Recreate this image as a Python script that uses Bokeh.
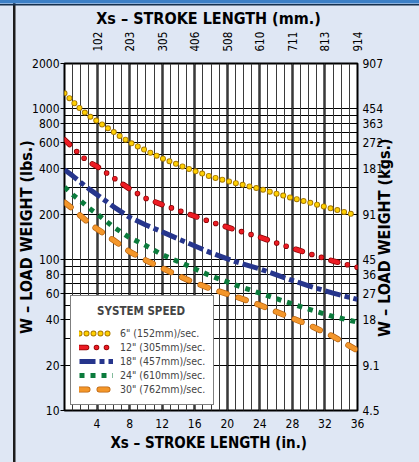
import math
from bokeh.plotting import figure
from bokeh.models import (LinearAxis, LogAxis, FixedTicker, Grid, Legend,
                          LegendItem, Range1d, Label, GlobalInlineStyleSheet)
from bokeh.embed import file_html
from bokeh.resources import INLINE

# ---------------- data ----------------
stroke_in = [0, 1, 2, 3, 4, 6, 8, 10, 12, 15, 18, 21, 24, 27, 30, 33, 36]
w_6in = [1270, 1120, 995, 900, 830, 705, 600, 530, 470, 405, 355, 322, 295, 265, 240, 217, 196]
w_12in = [625, 555, 490, 445, 415, 350, 295, 255, 232, 203, 178, 158, 141, 124, 110, 98, 89]
w_18in = [395, 360, 325, 295, 270, 225, 191, 170, 153, 130, 111, 97, 87, 76, 67, 60, 54.5]
w_24in = [303, 270, 245, 220, 201, 165, 140, 124, 108, 92, 78, 68, 60, 53, 47, 42, 38.5]
w_30in = [240, 218, 195, 175, 160, 135, 113, 99, 88, 74, 64, 57, 50, 43, 37, 31, 25]

series_labels = ['6" (152mm)/sec.', '12" (305mm)/sec.', '18" (457mm)/sec.',
                 '24" (610mm)/sec.', '30" (762mm)/sec.']
legend_title = "SYSTEM SPEED"

in_ticks = [4, 8, 12, 16, 20, 24, 28, 32, 36]
mm_labels = ["102", "203", "305", "406", "508", "610", "711", "813", "914"]
lbs_ticks = [10, 20, 40, 60, 80, 100, 200, 400, 600, 800, 1000, 2000]
kg_labels = ["4.5", "9.1", "18", "27", "36", "45", "91", "181", "272", "363", "454", "907"]
minor_y = [m * d for d in (10, 100, 1000) for m in range(1, 10)] + [2000]
minor_x = list(range(0, 37))

FONT = "DejaVu Sans Condensed, Liberation Sans Narrow, Roboto, sans-serif"
BG = "#dfe7f4"
PAGE_CSS = """
body {
  background:
    linear-gradient(#3d80c6, #3d80c6) 0 0 / 100% 3.5px no-repeat,
    linear-gradient(#16304d, #16304d) 0 3.5px / 100% 1.5px no-repeat,
    linear-gradient(#1c1c1c, #1c1c1c) 12.5px 0 / 2.5px 100% no-repeat,
    BGCOLOR;
}
""".replace("BGCOLOR", BG)

p = figure(width=419, height=462, x_range=Range1d(0, 36), y_range=Range1d(10, 2000),
           y_axis_type="log", output_backend="svg", toolbar_location=None,
           min_border_left=64, min_border_right=62, min_border_top=63, min_border_bottom=52)
p.stylesheets = [GlobalInlineStyleSheet(css=PAGE_CSS)]
p.background_fill_color = "white"
p.border_fill_color = BG
p.border_fill_alpha = 0
p.outline_line_color = "black"
p.outline_line_width = 2

# grids
p.xgrid.ticker = FixedTicker(ticks=in_ticks)
p.xgrid.grid_line_color = "black"
p.xgrid.grid_line_width = 2.2
p.ygrid.ticker = FixedTicker(ticks=minor_y)
p.ygrid.grid_line_color = "black"
p.ygrid.grid_line_width = 1.2
minor_grid = Grid(dimension=0, ticker=FixedTicker(ticks=minor_x),
                  grid_line_color="#3a3a3a", grid_line_width=1)
p.add_layout(minor_grid)


def style_axis(ax, out=0):
    ax.axis_line_color = None
    ax.major_tick_out = out
    ax.major_tick_in = 0
    ax.minor_tick_out = 0
    ax.minor_tick_in = 0
    ax.major_tick_line_color = "black"
    ax.major_label_text_font = FONT
    ax.major_label_text_font_size = "12px"
    ax.major_label_text_color = "black"
    ax.axis_label_text_font = FONT
    ax.axis_label_text_font_size = "16px"
    ax.axis_label_text_font_style = "bold"
    ax.axis_label_text_color = "black"


# bottom axis
bx = p.xaxis[0]
bx.ticker = FixedTicker(ticks=in_ticks)
bx.axis_label = "Xs – STROKE  LENGTH (in.)"
style_axis(bx)
bx.axis_label_text_font_size = "15px"
bx.major_label_standoff = 8
bx.axis_label_standoff = 3

# left axis
ly = p.yaxis[0]
ly.ticker = FixedTicker(ticks=lbs_ticks)
ly.major_label_overrides = {t: str(t) for t in lbs_ticks}
ly.axis_label = "W – LOAD WEIGHT (lbs.)"
style_axis(ly, out=4)
ly.major_label_standoff = 1
ly.axis_label_standoff = -7

# top axis (mm)
tx = LinearAxis(ticker=FixedTicker(ticks=in_ticks),
                major_label_overrides={t: l for t, l in zip(in_ticks, mm_labels)},
                axis_label="Xs – STROKE  LENGTH (mm.)", major_label_orientation="vertical")
style_axis(tx)
tx.major_label_text_font_size = "11.5px"
tx.major_label_standoff = 12
tx.axis_label_standoff = 1
p.add_layout(tx, "above")

# right axis (kg)
ry = LogAxis(ticker=FixedTicker(ticks=lbs_ticks),
             major_label_overrides={t: l for t, l in zip(lbs_ticks, kg_labels)})
style_axis(ry)
ry.major_label_standoff = 5
p.add_layout(ry, "right")

# right-hand title, reading bottom to top, placed in the right border panel
right_title = Label(x=39.3, y=140, text="W – LOAD WEIGHT (kgs.)", angle=math.pi / 2,
                    text_align="center", text_baseline="middle",
                    text_font=FONT, text_font_size="16px", text_font_style="bold",
                    text_color="black")
p.add_layout(right_title, "right")

# curves
r6o = p.line(stroke_in, w_6in, line_color="#a87800", line_width=6, line_dash="0 7", line_cap="round")
r6 = p.line(stroke_in, w_6in, line_color="#ffd000", line_width=4.2, line_dash="0 7", line_cap="round")
r12o = p.line(stroke_in, w_12in, line_color="#8a0000", line_width=5.6, line_dash="7 10 0 10 0 10", line_cap="round")
r12 = p.line(stroke_in, w_12in, line_color="#ec1c24", line_width=4.2, line_dash="7 10 0 10 0 10", line_cap="round")
r18 = p.line(stroke_in, w_18in, line_color="#26358c", line_width=5, line_dash="16 4 5 4")
r24 = p.line(stroke_in, w_24in, line_color="#0b7b3c", line_width=5, line_dash="5 6")
r30o = p.line(stroke_in, w_30in, line_color="#b8620e", line_width=6, line_dash="8 12", line_cap="round")
r30 = p.line(stroke_in, w_30in, line_color="#f3962a", line_width=4.6, line_dash="8 12", line_cap="round")

items = [LegendItem(label=series_labels[0], renderers=[r6o, r6]),
         LegendItem(label=series_labels[1], renderers=[r12o, r12]),
         LegendItem(label=series_labels[2], renderers=[r18]),
         LegendItem(label=series_labels[3], renderers=[r24]),
         LegendItem(label=series_labels[4], renderers=[r30o, r30])]
legend = Legend(items=items, location=(6, 5), margin=0, padding=8, spacing=0,
                label_height=14, glyph_height=14, glyph_width=34, label_standoff=7,
                label_text_font=FONT, label_text_font_size="10.5px",
                title="\u00a0" * 5 + legend_title, title_text_font=FONT,
                title_text_font_size="11.5px", title_text_font_style="bold",
                title_standoff=8,
                border_line_color="black", border_line_width=1.5,
                background_fill_color="white", background_fill_alpha=1)
p.add_layout(legend)

open("out.html", "w").write(file_html(p, INLINE))
